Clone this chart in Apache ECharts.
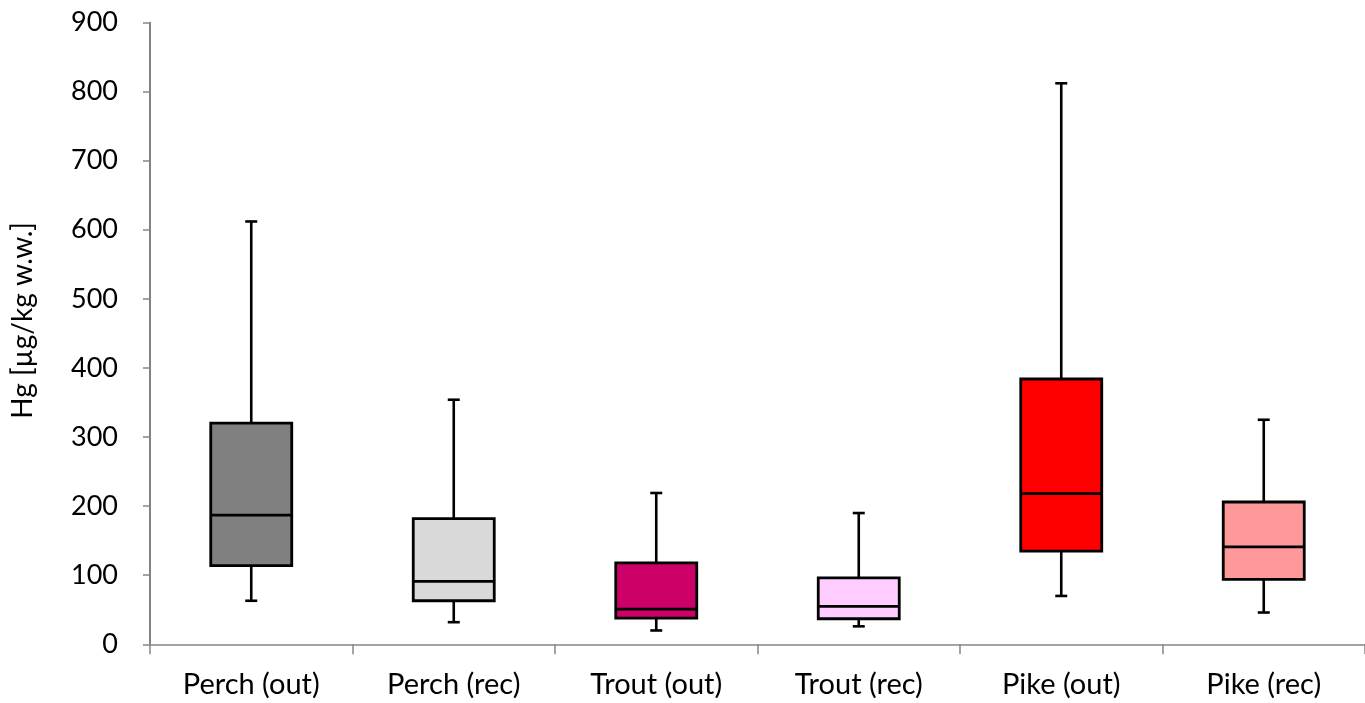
<!DOCTYPE html>
<html>
<head>
<meta charset="utf-8">
<script src="https://cdn.jsdelivr.net/npm/echarts@6/dist/echarts.min.js"></script>
<style>
html,body{margin:0;padding:0;background:#fff;}
#chart{width:1365px;height:703px;}
</style>
</head>
<body>
<div id="chart"></div>
<script>
const categories = ['Perch (out)', 'Perch (rec)', 'Trout (out)', 'Trout (rec)', 'Pike (out)', 'Pike (rec)'];
const minVals    = [63, 32, 20, 26, 70, 46];
const q1Vals     = [114, 63, 38, 37, 135, 94];
const medianVals = [187, 91, 51, 55, 218, 141];
const q3Vals     = [320, 182, 118, 96, 384, 206];
const maxVals    = [612, 354, 219, 190, 812, 325];
const yTicks = [0, 100, 200, 300, 400, 500, 600, 700, 800, 900];

const fillColors = ['#808080', '#D9D9D9', '#CC0066', '#FFCCFF', '#FF0000', '#FF9999'];

const seriesData = categories.map((c, i) => [i, minVals[i], q1Vals[i], medianVals[i], q3Vals[i], maxVals[i]]);

const chart = echarts.init(document.getElementById('chart'));
const font = 'Lato, "Open Sans", sans-serif';

chart.setOption({
  animation: false,
  backgroundColor: '#ffffff',
  grid: { left: 150, top: 22.5, width: 1223, bottom: 58.7, containLabel: false },
  xAxis: {
    type: 'category',
    data: categories,
    boundaryGap: true,
    axisLine: { lineStyle: { color: '#868686', width: 1.5 } },
    axisTick: { show: true, length: 10, lineStyle: { color: '#868686', width: 1.5 } },
    axisLabel: { color: '#000', fontSize: 29, fontFamily: font, margin: 26 },
    splitLine: { show: false }
  },
  yAxis: {
    type: 'value',
    min: yTicks[0],
    max: yTicks[yTicks.length - 1],
    interval: 100,
    name: 'Hg [µg/kg w.w.]',
    nameLocation: 'middle',
    nameGap: 113,
    nameRotate: 90,
    nameTextStyle: { color: '#000', fontSize: 28, fontFamily: font, padding: [0, 0, 0, 26] },
    axisLine: { show: true, lineStyle: { color: '#595959', width: 1.5 } },
    axisTick: { show: true, length: 7, lineStyle: { color: '#868686', width: 1.5 } },
    axisLabel: { color: '#000', fontSize: 27, fontFamily: font, margin: 32 },
    splitLine: { show: false }
  },
  series: [{
    type: 'custom',
    data: seriesData,
    encode: { x: 0, y: [1, 2, 3, 4, 5] },
    renderItem: function (params, api) {
      const idx = api.value(0);
      const vMin = api.value(1), vQ1 = api.value(2), vMed = api.value(3), vQ3 = api.value(4), vMax = api.value(5);
      const cx = api.coord([idx, 0])[0];
      const band = api.size([1, 0])[0];
      const bw = band * 0.40;
      const cap = 12;
      const yMin = api.coord([idx, vMin])[1];
      const yQ1 = api.coord([idx, vQ1])[1];
      const yMed = api.coord([idx, vMed])[1];
      const yQ3 = api.coord([idx, vQ3])[1];
      const yMax = api.coord([idx, vMax])[1];
      const lineStyle = { stroke: '#000', lineWidth: 2.6 };
      return {
        type: 'group',
        children: [
          { type: 'line', shape: { x1: cx, y1: yMax, x2: cx, y2: yQ3 }, style: lineStyle },
          { type: 'line', shape: { x1: cx, y1: yQ1, x2: cx, y2: yMin }, style: lineStyle },
          { type: 'line', shape: { x1: cx - cap / 2, y1: yMax, x2: cx + cap / 2, y2: yMax }, style: lineStyle },
          { type: 'line', shape: { x1: cx - cap / 2, y1: yMin, x2: cx + cap / 2, y2: yMin }, style: lineStyle },
          { type: 'rect', shape: { x: cx - bw / 2, y: yQ3, width: bw, height: yQ1 - yQ3 },
            style: { fill: fillColors[idx], stroke: '#000', lineWidth: 2.8 } },
          { type: 'line', shape: { x1: cx - bw / 2, y1: yMed, x2: cx + bw / 2, y2: yMed }, style: { stroke: '#000', lineWidth: 2.8 } }
        ]
      };
    }
  }]
});
</script>
</body>
</html>
